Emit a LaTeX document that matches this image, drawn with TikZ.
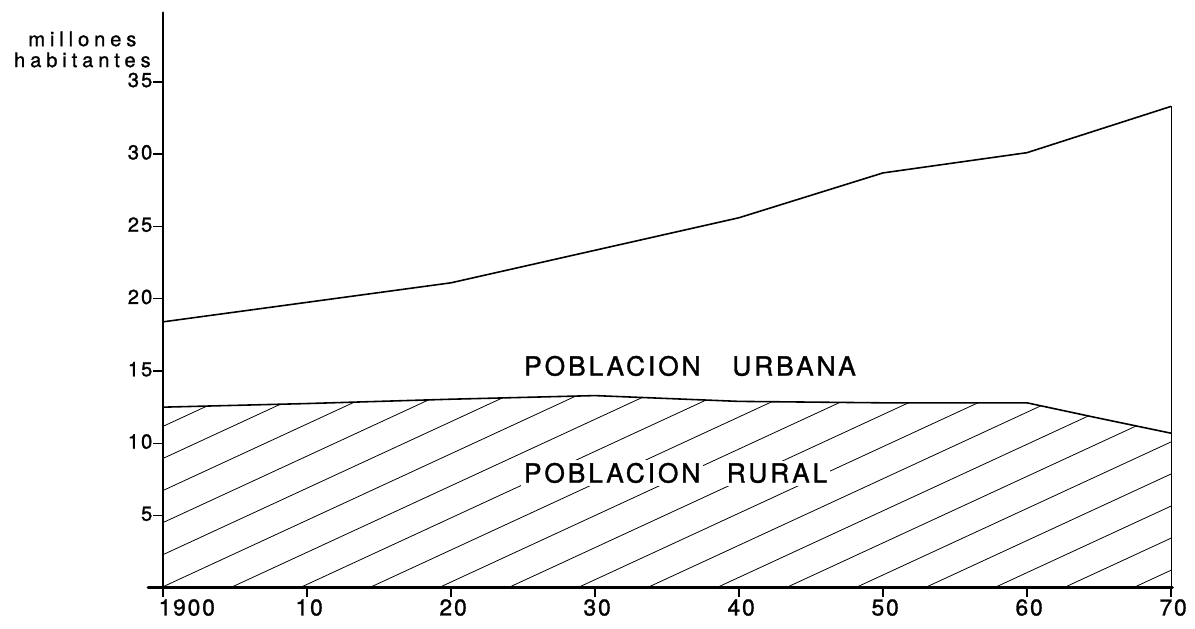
\documentclass[tikz,border=0pt]{standalone}
\usepackage{fontspec}
\setmainfont{TeX Gyre Heros}
\newfontfamily\tickfont[LetterSpace=10, FakeBold=1.2]{TeX Gyre Heros}
\newfontfamily\yearfont[LetterSpace=8, FakeBold=1.2]{TeX Gyre Heros}
\newfontfamily\areafont[LetterSpace=11, FakeBold=1.2]{TeX Gyre Heros}
\newfontfamily\unitfont[LetterSpace=24, FakeBold=1]{TeX Gyre Heros}
\usetikzlibrary{positioning}
\tikzstyle{axis} = [line width=1.7pt, line cap=round]
\tikzstyle{curve} = [line width=0.9pt, line join=round]
\tikzstyle{hatch} = [line width=0.45pt]

\begin{document}
\begin{tikzpicture}[
    x=2.88cm, y=0.2892cm,
    every node/.style={inner sep=0pt},
    ylab/.style={anchor=east, yshift=1pt, font=\tickfont\fontsize{11.5}{13}\selectfont},
    xlab/.style={anchor=north, yshift=-0.22cm, font=\yearfont\fontsize{13}{15}\selectfont},
    area/.style={font=\areafont\fontsize{15}{18}\selectfont},
    unit/.style={align=center, font=\unitfont\fontsize{11.5}{11.9}\selectfont}
]

% Frame
\useasboundingbox (-1.132,-2.835) rectangle (7.167,40.66);

% Hatching of the rural area
\begin{scope}
\clip (0,0) -- (0,12.5) -- (1,12.75) -- (2,13.05) -- (3,13.3) -- (4,12.9)
      -- (5,12.8) -- (6,12.8) -- (6.47,11.8) -- (7,10.7) -- (7,0) -- cycle;
\foreach \k in {-7,...,14}
    \draw[hatch] (0.465+0.4823*\k,0) -- ++(3.2,14.72);
\end{scope}

% Curves
\draw[curve] (0,18.4) -- (2,21.1) -- (4,25.6) -- (5,28.7) -- (6,30.1) -- (7,33.3);
\draw[curve] (0,12.5) -- (1,12.75) -- (2,13.05) -- (3,13.3) -- (4,12.9)
      -- (5,12.8) -- (6,12.8) -- (6.47,11.8) -- (7,10.7);
\draw[hatch] (7,0) -- (7,33.3);

% Axes
\draw[axis] (-0.104,0) -- (7.01,0);
\draw[axis] (0,0) -- (0,39.77);
\foreach \v in {5,10,...,35}
    \draw[thick] (0,\v) -- ++(-0.2cm,0) node[ylab] (y\v) {\v};
\foreach \d in {0,...,7}
    \draw[thick] (\d,0) -- ++(0,-0.18cm);

% Labels
\node[xlab] (x1900) at (0.165,0) {1900};
\foreach \d/\t in {1/10,2/20,3/30,4/40,5/50,6/60,7/70}
    \node[xlab] (x\t) at (\d+0.015,0) {\t};
\node[unit] (unidad) at (-0.56,37.24) {millones\\habitantes};
\node[area] (urbana) at (3.66,15.35) {POBLACION\hspace{1.2em}URBANA};
\node[area] (rural) at (3.56,7.95)
    {\setlength{\fboxsep}{1.5pt}\colorbox{white}{POBLACION}\hspace{0.8em}\colorbox{white}{RURAL}};

\end{tikzpicture}
\end{document}
